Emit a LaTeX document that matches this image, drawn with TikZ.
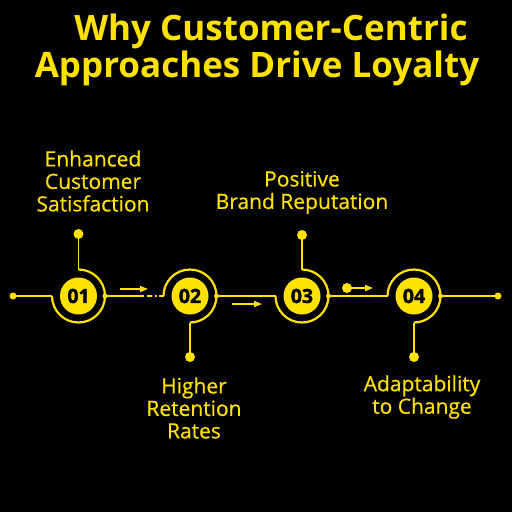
\documentclass[tikz,border=0pt]{standalone}
\usepackage{fontspec}
\setmainfont{Open Sans}
\newfontfamily\lblfont{Open Sans}[FakeBold=0.5]
\newfontfamily\numfont{Open Sans}[UprightFeatures={FakeBold=0},BoldFeatures={FakeBold=1.6}]
\usetikzlibrary{arrows.meta}
\definecolor{ylw}{RGB}{255,226,0}
\begin{document}
\begin{tikzpicture}[x=1pt,y=-1pt,
  link/.style={draw=ylw,line width=1.8pt},
  ring/.style={draw=ylw,line width=2.2pt},
  enddot/.style={circle,fill=ylw,inner sep=0pt,minimum size=7pt},
  topdot/.style={circle,fill=ylw,inner sep=0pt,minimum size=10pt},
  smalldot/.style={circle,fill=ylw,inner sep=0pt,minimum size=5pt},
  numc/.style={circle,fill=ylw,inner sep=0pt,minimum size=37pt,font=\numfont\fontsize{19.5}{19.5}\selectfont\bfseries,text=black},
  lbl/.style={text=ylw,align=center,font=\lblfont\fontsize{21}{22.5}\selectfont},
  ttl/.style={text=ylw,font=\fontsize{35}{35}\selectfont\bfseries},
  arr/.style={draw=ylw,line width=1.5pt,-{Triangle[length=8pt,width=6pt]}}]
\fill[black] (0,0) rectangle (512,512);
\useasboundingbox (0,0) rectangle (512,512);
% title
\node[ttl] (t1) at (271,31) {Why Customer-Centric};
\node[ttl] (t2) at (257,68) {Approaches Drive Loyalty};
% numbered circles
\node[numc] (n1) at (78.5,296) {01};
\node[numc] (n2) at (190,296) {02};
\node[numc] (n3) at (302,296) {03};
\node[numc] (n4) at (414,296) {04};
% key coordinates
\coordinate (a1) at (52,296);
\coordinate (a2) at (163.5,296);
\coordinate (a3) at (275.5,296);
\coordinate (a4) at (387.5,296);
\coordinate (g12) at (144,296);
\node[enddot] (dL) at (13,296) {};
\node[enddot] (dR) at (498,296) {};
\node[smalldot] (r1) at (105,296) {};
\node[smalldot] (r2) at (216.5,296) {};
\node[smalldot] (r3) at (328.5,296) {};
\node[smalldot] (r4) at (440.5,296) {};
\coordinate (u1) at (78.5,269.5);
\coordinate (b2) at (190,322.5);
\coordinate (u3) at (302,269.5);
\coordinate (b4) at (414,322.5);
\node[topdot] (p1) at (78.5,234) {};
\node[topdot] (p2) at (190,357) {};
\node[topdot] (p3) at (302,235) {};
\node[topdot] (p4) at (414,357) {};
% rings
\draw[ring] (a1) arc[start angle=180,end angle=-90,radius=26.5];
\draw[ring] (a2) arc[start angle=180,end angle=450,radius=26.5];
\draw[ring] (a3) arc[start angle=180,end angle=-90,radius=26.5];
\draw[ring] (a4) arc[start angle=180,end angle=450,radius=26.5];
% main line
\draw[link] (dL.center) -- (a1);
\draw[link] (r1.center) -- (g12);
\draw[link,dash pattern=on 5pt off 3pt on 2pt off 2pt on 5pt off 0pt] ([xshift=3pt]g12) -- (a2);
\draw[link] (r2.center) -- (a3);
\draw[link] (r3.center) -- (a4);
\draw[link] (r4.center) -- (dR.center);
% stems
\draw[link] (u1) -- (p1.center);
\draw[link] (b2) -- (p2.center);
\draw[link] (u3) -- (p3.center);
\draw[link] (b4) -- (p4.center);
% arrows
\coordinate (s1) at (120,289);
\coordinate (e1) at (148,289);
\coordinate (s2) at (232,304);
\coordinate (e2) at (262,304);
\node[topdot] (q3) at (347,288) {};
\coordinate (e3) at (373,288);
\draw[arr] (s1) -- (e1);
\draw[arr] (s2) -- (e2);
\draw[arr] (q3.center) -- (e3);
% labels
\node[lbl] (l1) at (93,181) {Enhanced\\Customer\\Satisfaction};
\node[lbl] (l2) at (302,192.5) {Positive\\Brand Reputation};
\node[lbl] (l3) at (194,408) {Higher\\Retention\\Rates};
\node[lbl] (l4) at (422,397) {Adaptability\\to Change};
\end{tikzpicture}
\end{document}
